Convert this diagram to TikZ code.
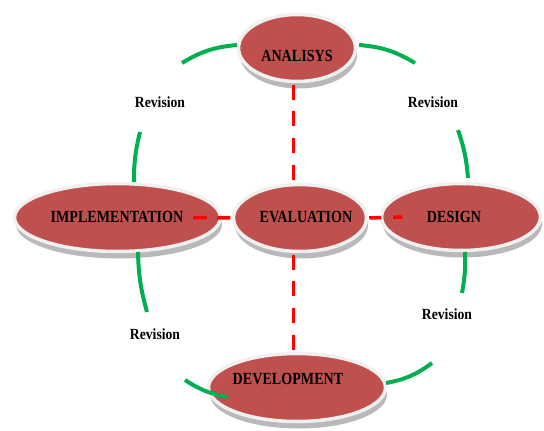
\documentclass[tikz,border=0pt]{standalone}
\usepackage{fontspec}
\setmainfont{Liberation Serif}
\usetikzlibrary{shapes.geometric,shadows,calc}
\definecolor{ered}{HTML}{C0504D}
\definecolor{egreen}{HTML}{00B050}
\definecolor{ering}{HTML}{F0F0F0}
\newcommand{\phasetext}[1]{\scalebox{0.83}[1]{\fontsize{17}{17}\selectfont\bfseries #1}}
\newcommand{\revtext}[1]{\scalebox{0.88}[1]{\fontsize{15.5}{15.5}\selectfont\bfseries #1}}
\begin{document}
\begin{tikzpicture}[x=1pt,y=-1pt,
  phase/.style={ellipse, fill=ered, draw=ering, line width=3.5pt, inner sep=0pt,
    general shadow={fill=gray!55, shadow xshift=1.5pt, shadow yshift=-7pt}},
  phaselabel/.style={inner sep=0pt, text=black},
  revlabel/.style={inner sep=0pt, text=black},
  evalline/.style={draw=red, line width=3.5pt, dash pattern=on 15pt off 11.67pt},
  revarc/.style={draw=egreen, line width=4pt}
]
\useasboundingbox (0,0) rectangle (544,431);
% phases
\node[phase, minimum width=117pt, minimum height=67pt] (ana) at (297,48) {};
\node[phase, minimum width=206pt, minimum height=68pt] (imp) at (117.5,217.5) {};
\node[phase, minimum width=133pt, minimum height=67pt] (eva) at (300,218) {};
\node[phase, minimum width=159pt, minimum height=67pt] (des) at (461,217) {};
\node[phase, minimum width=177pt, minimum height=68pt] (dev) at (297,387.5) {};
% labels
\node[phaselabel] (anaT) at (297,55.5) {\phasetext{ANALISYS}};
\node[phaselabel] (impT) at (117,217) {\phasetext{IMPLEMENTATION}};
\node[phaselabel] (evaT) at (306,216.5) {\phasetext{EVALUATION}};
\node[phaselabel] (desT) at (454,216.5) {\phasetext{DESIGN}};
\node[phaselabel] (devT) at (288,378.5) {\phasetext{DEVELOPMENT}};
% red dashed connectors
\coordinate (anaB) at ($(ana.south)+(-3.5,0)$);
\coordinate (devT0) at ($(dev.north)+(-3.5,0)$);
\draw[evalline, shorten <=1.5pt, shorten >=2.5pt] (anaB) -- (anaB |- eva.north);
\draw[evalline, shorten <=1.5pt, shorten >=1.5pt] (devT0 |- eva.south) -- (devT0);
\coordinate (impR) at ($(imp.east)+(-29,0)$);
\coordinate (desL) at ($(des.west)+(22.5,0)$);
\draw[evalline, dash pattern=on 13.5pt off 10.5pt, shorten >=1.5pt] (impR) -- (eva.west);
\draw[evalline, dash pattern=on 12pt off 12pt, shorten <=1pt] (eva.east) -- (desL);
% green revision arcs
\coordinate (g1a) at (182,63);  \coordinate (g1b) at (237,45);
\coordinate (g8a) at (359,45);  \coordinate (g8b) at (415,63);
\coordinate (g7a) at (458,130); \coordinate (g7b) at (468,178);
\coordinate (g6a) at (465,252); \coordinate (g6b) at (462,293);
\coordinate (g5a) at (432,363); \coordinate (g5b) at (386,383);
\coordinate (g4a) at (227,397); \coordinate (g4b) at (185,380);
\coordinate (g3a) at (147,312); \coordinate (g3b) at (138,252);
\coordinate (g2a) at (134,182); \coordinate (g2b) at (140,132);
\draw[revarc] (g1a) to[bend left=13] (g1b);
\draw[revarc] (g8a) to[bend left=13] (g8b);
\draw[revarc] (g7a) to[bend left=7] (g7b);
\draw[revarc] (g6a) to[bend left=6] (g6b);
\draw[revarc] (g5a) to[bend left=13] (g5b);
\draw[revarc] (g4a) to[bend left=11] (g4b);
\draw[revarc] (g3a) to[bend left=7] (g3b);
\draw[revarc] (g2a) to[bend left=7] (g2b);
% revision labels
\node[revlabel] (r1) at (160,102) {\revtext{Revision}};
\node[revlabel] (r2) at (433,102) {\revtext{Revision}};
\node[revlabel] (r3) at (447,314) {\revtext{Revision}};
\node[revlabel] (r4) at (155,334) {\revtext{Revision}};
\end{tikzpicture}
\end{document}
